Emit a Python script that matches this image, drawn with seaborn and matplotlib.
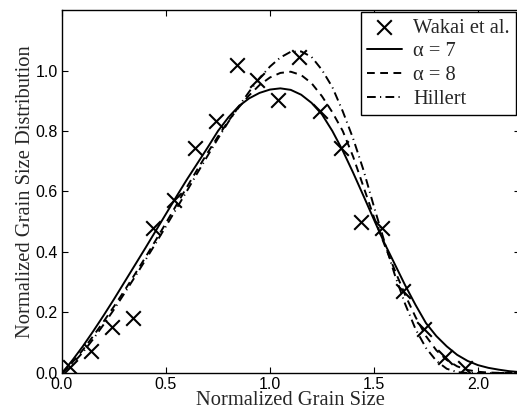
import numpy as np
import pandas as pd
import matplotlib
matplotlib.use("Agg")
import matplotlib.pyplot as plt
import seaborn as sns

# measured points (Wakai et al.)
wakai_x = [0.04, 0.14, 0.24, 0.34, 0.44, 0.54, 0.64, 0.74, 0.84, 0.94,
           1.04, 1.14, 1.24, 1.34, 1.44, 1.54, 1.64, 1.74, 1.84, 1.94]
wakai_y = [0.020, 0.072, 0.153, 0.182, 0.478, 0.572, 0.745, 0.832, 1.018, 0.968,
           0.903, 1.046, 0.865, 0.744, 0.498, 0.478, 0.270, 0.145, 0.053, 0.016]

# curves
curve_x = [0.00, 0.05, 0.10, 0.15, 0.20, 0.25, 0.30, 0.35, 0.40, 0.45,
           0.50, 0.55, 0.60, 0.65, 0.70, 0.75, 0.80, 0.85, 0.90, 0.95,
           1.00, 1.05, 1.10, 1.15, 1.20, 1.25, 1.30, 1.35, 1.40, 1.45,
           1.50, 1.55, 1.60, 1.65, 1.70, 1.75, 1.80, 1.85, 1.90, 1.95,
           2.00, 2.05, 2.10, 2.15, 2.20]
alpha7_y = [0.000, 0.042, 0.088, 0.138, 0.190, 0.244, 0.300, 0.356, 0.412, 0.469,
            0.526, 0.583, 0.639, 0.692, 0.745, 0.800, 0.845, 0.882, 0.908, 0.926,
            0.937, 0.941, 0.936, 0.920, 0.893, 0.855, 0.800, 0.735, 0.662, 0.585,
            0.507, 0.430, 0.360, 0.290, 0.225, 0.165, 0.122, 0.088, 0.060, 0.040,
            0.026, 0.017, 0.011, 0.006, 0.003]
alpha8_y = [0.000, 0.035, 0.076, 0.122, 0.170, 0.220, 0.272, 0.326, 0.381, 0.438,
            0.496, 0.555, 0.614, 0.672, 0.728, 0.782, 0.833, 0.878, 0.918, 0.952,
            0.977, 0.992, 0.996, 0.985, 0.958, 0.915, 0.862, 0.800, 0.715, 0.615,
            0.515, 0.425, 0.340, 0.258, 0.185, 0.122, 0.075, 0.043, 0.022, 0.010,
            0.004, 0.0015, 0.0005, 0.0, 0.0]
hillert_y = [0.000, 0.030, 0.068, 0.112, 0.160, 0.210, 0.263, 0.317, 0.372, 0.428,
             0.485, 0.543, 0.601, 0.660, 0.718, 0.775, 0.830, 0.881, 0.930, 0.975,
             1.013, 1.043, 1.062, 1.063, 1.045, 1.002, 0.945, 0.865, 0.775, 0.670,
             0.550, 0.435, 0.325, 0.228, 0.145, 0.083, 0.040, 0.014, 0.003, 0.0,
             0.0, 0.0, 0.0, 0.0, 0.0]

series_names = ["\u03b1 = 7", "\u03b1 = 8", "Hillert"]

sns.set_style("ticks")
serif = ["Liberation Serif", "DejaVu Serif"]
plt.rcParams["font.family"] = ["Liberation Sans", "DejaVu Sans"]

curves = pd.concat([
    pd.DataFrame({"x": curve_x, "y": ys, "model": name})
    for name, ys in zip(series_names, [alpha7_y, alpha8_y, hillert_y])
])
pts = pd.DataFrame({"x": wakai_x, "y": wakai_y})

fig = plt.figure(figsize=(5.17, 4.12), dpi=100)
ax = fig.add_axes([0.1199, 0.0947, 0.885, 0.881])

sns.scatterplot(data=pts, x="x", y="y", marker="x", s=110, color="black",
                linewidth=1.5, ax=ax, label="Wakai et al.", zorder=3)
sns.lineplot(data=curves, x="x", y="y", style="model", color="black",
             dashes={series_names[0]: "", series_names[1]: (4, 2.8),
                     series_names[2]: (4.5, 2.2, 0.6, 2.2)},
             sort=False, estimator=None, linewidth=1.4, ax=ax)

ax.set_xlim(0, 2.2)
ax.set_ylim(0, 1.2)
ax.set_xticks([0.0, 0.5, 1.0, 1.5, 2.0])
ax.set_yticks([0.0, 0.2, 0.4, 0.6, 0.8, 1.0])
ax.set_xticklabels(["0.0", "0.5", "1.0", "1.5", "2.0"])
ax.set_yticklabels(["0.0", "0.2", "0.4", "0.6", "0.8", "1.0"])
ax.tick_params(direction="in", length=4, width=0.8, labelsize=11.5,
               top=True, right=True, pad=3, colors="black")
for sp in ax.spines.values():
    sp.set_linewidth(1.0)
    sp.set_color("black")

ax.set_xlabel("Normalized Grain Size", family=serif, fontsize=14.8, labelpad=-1)
ax.set_ylabel("Normalized Grain Size Distribution", family=serif, fontsize=14.8,
              labelpad=0)

handles, labels = ax.get_legend_handles_labels()
order = ["Wakai et al."] + series_names
hmap = dict(zip(labels, handles))
leg = ax.legend([hmap[k] for k in order], order, loc="upper right",
                bbox_to_anchor=(516 / 517, 400 / 412), bbox_transform=fig.transFigure,
                borderaxespad=0, frameon=True, fancybox=False, edgecolor="black",
                framealpha=1, handlelength=1.7, handletextpad=0.55,
                borderpad=0.3, labelspacing=0.22,
                prop={"family": serif, "size": 14.8})
leg.get_frame().set_linewidth(1.0)

fig.savefig("out.png", dpi=100)
